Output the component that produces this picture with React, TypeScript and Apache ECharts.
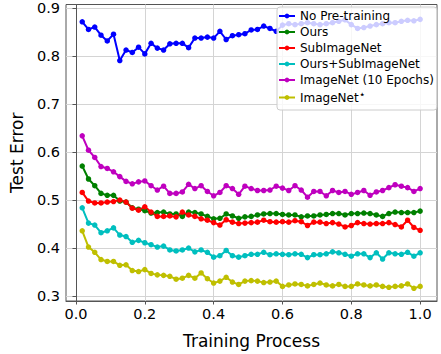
import React, { useEffect, useRef } from "react";
import * as echarts from "echarts";

const N = 55;
const xs: number[] = Array.from({ length: N }, (_, i) => (i + 1) / N);

const noPretraining = [0.872,0.856,0.861,0.844,0.832,0.846,0.791,0.813,0.808,0.819,0.805,0.827,0.817,0.813,0.826,0.827,0.827,0.818,0.838,0.838,0.840,0.838,0.852,0.835,0.843,0.845,0.847,0.855,0.856,0.863,0.858,0.852,0.865,0.868,0.866,0.868,0.870,0.868,0.866,0.868,0.870,0.873,0.876,0.866,0.858,0.860,0.863,0.866,0.868,0.870,0.870,0.873,0.875,0.874,0.877];
const ours = [0.571,0.544,0.530,0.514,0.510,0.510,0.498,0.496,0.484,0.481,0.478,0.473,0.474,0.475,0.471,0.471,0.466,0.475,0.474,0.471,0.466,0.461,0.462,0.471,0.467,0.462,0.465,0.466,0.469,0.471,0.472,0.472,0.470,0.469,0.469,0.465,0.467,0.467,0.469,0.470,0.472,0.472,0.469,0.472,0.472,0.473,0.472,0.469,0.466,0.472,0.475,0.474,0.474,0.474,0.477];
const subImageNet = [0.516,0.498,0.494,0.494,0.496,0.497,0.500,0.496,0.483,0.479,0.486,0.475,0.466,0.466,0.467,0.465,0.475,0.469,0.466,0.461,0.458,0.453,0.448,0.459,0.454,0.451,0.452,0.453,0.454,0.458,0.455,0.454,0.455,0.454,0.457,0.455,0.447,0.454,0.454,0.451,0.453,0.450,0.444,0.447,0.453,0.451,0.450,0.451,0.451,0.453,0.449,0.444,0.458,0.443,0.437];
const oursSub = [0.484,0.452,0.448,0.432,0.436,0.442,0.427,0.424,0.412,0.416,0.411,0.407,0.402,0.404,0.396,0.394,0.396,0.400,0.392,0.396,0.391,0.381,0.384,0.395,0.384,0.381,0.384,0.387,0.387,0.391,0.386,0.388,0.387,0.386,0.388,0.387,0.380,0.386,0.386,0.388,0.392,0.390,0.387,0.383,0.388,0.388,0.380,0.390,0.377,0.390,0.388,0.387,0.391,0.383,0.390];
const imageNet10 = [0.634,0.604,0.589,0.570,0.566,0.559,0.549,0.539,0.534,0.538,0.540,0.530,0.521,0.529,0.514,0.514,0.517,0.533,0.524,0.530,0.518,0.509,0.516,0.530,0.524,0.512,0.529,0.524,0.520,0.520,0.521,0.529,0.525,0.520,0.530,0.521,0.506,0.518,0.518,0.509,0.520,0.516,0.518,0.512,0.516,0.520,0.510,0.517,0.520,0.526,0.532,0.529,0.526,0.518,0.524];
const imageNetStar = [0.436,0.402,0.391,0.376,0.372,0.372,0.364,0.365,0.353,0.351,0.355,0.347,0.344,0.343,0.341,0.335,0.337,0.343,0.337,0.348,0.336,0.327,0.331,0.339,0.329,0.324,0.331,0.332,0.331,0.328,0.329,0.331,0.320,0.323,0.325,0.324,0.321,0.324,0.327,0.323,0.321,0.324,0.320,0.320,0.325,0.323,0.321,0.323,0.320,0.318,0.320,0.321,0.325,0.316,0.320];

const seriesNames = ["No Pre-training", "Ours", "SubImageNet", "Ours+SubImageNet", "ImageNet (10 Epochs)", "ImageNet⋆"];
const seriesColors = ["#0000ff", "#008000", "#ff0000", "#00bfbf", "#bf00bf", "#bfbf00"];
const seriesData = [noPretraining, ours, subImageNet, oursSub, imageNet10, imageNetStar];

const xTicks = [0, 0.2, 0.4, 0.6, 0.8, 1.0];
const yTicks = [0.3, 0.4, 0.5, 0.6, 0.7, 0.8, 0.9];

const FONT = "DejaVu Sans";

export default function App() {
  const ref = useRef<HTMLDivElement>(null);
  useEffect(() => {
    if (!ref.current) return;
    const chart = echarts.init(ref.current, undefined, { renderer: "svg" });
    chart.setOption({
      animation: false,
      backgroundColor: "#ffffff",
      grid: {
        left: 52,
        right: 4,
        top: 4.5,
        bottom: 42,
        show: true,
        borderColor: "#555",
        borderWidth: 1,
        backgroundColor: "transparent",
      },
      xAxis: {
        type: "value",
        min: -0.029,
        max: 1.049,
        name: "Training Process",
        nameLocation: "middle",
        nameGap: 31,
        nameTextStyle: { fontFamily: FONT, fontSize: 17, color: "#000" },
        axisLine: { show: true, lineStyle: { color: "#555", width: 1 } },
        axisTick: { show: true, length: 3.5, customValues: xTicks, lineStyle: { color: "#555" } },
        axisLabel: {
          customValues: xTicks,
          margin: 5,
          fontFamily: FONT,
          fontSize: 14.5,
          color: "#000",
          formatter: (v: number) => v.toFixed(1),
        },
        splitLine: { show: true, customValues: xTicks, lineStyle: { color: "#d4d4d4", width: 1 } },
      },
      yAxis: {
        type: "value",
        min: 0.2895,
        max: 0.908,
        name: "Test Error",
        nameLocation: "middle",
        nameGap: 41,
        nameTextStyle: { fontFamily: FONT, fontSize: 17, color: "#000" },
        axisLine: { show: true, lineStyle: { color: "#555", width: 1 } },
        axisTick: { show: true, length: 3.5, customValues: yTicks, lineStyle: { color: "#555" } },
        axisLabel: {
          customValues: yTicks,
          margin: 6,
          fontFamily: FONT,
          fontSize: 14.5,
          color: "#000",
          formatter: (v: number) => v.toFixed(1),
        },
        splitLine: { show: true, customValues: yTicks, lineStyle: { color: "#d4d4d4", width: 1 } },
      },
      legend: {
        orient: "vertical",
        left: 277,
        top: 7,
        padding: [2, 3, 4, 1],
        itemGap: 2,
        itemWidth: 16,
        itemHeight: 6,
        backgroundColor: "rgba(255,255,255,0.8)",
        borderColor: "#cccccc",
        borderWidth: 1,
        borderRadius: 3,
        data: seriesNames,
        formatter: (name: string) => (name === "ImageNet⋆" ? "ImageNet{s|⋆}" : name),
        textStyle: {
          fontFamily: FONT,
          fontSize: 12,
          lineHeight: 14,
          color: "#000",
          rich: {
            s: { fontFamily: FONT, fontSize: 11, lineHeight: 14, padding: [0, 0, 6, 0], color: "#000" },
          },
        },
      },
      series: seriesNames.map((name, k) => ({
        name,
        type: "line",
        data: xs.map((x, i) => [x, seriesData[k][i]]),
        symbol: "circle",
        symbolSize: 5.5,
        showSymbol: true,
        itemStyle: { color: seriesColors[k] },
        lineStyle: { color: seriesColors[k], width: 2 },
        emphasis: { disabled: true },
      })),
    });
    return () => chart.dispose();
  }, []);
  return <div ref={ref} style={{ width: 441, height: 354, position: "absolute", left: 0, top: 0 }} />;
}
